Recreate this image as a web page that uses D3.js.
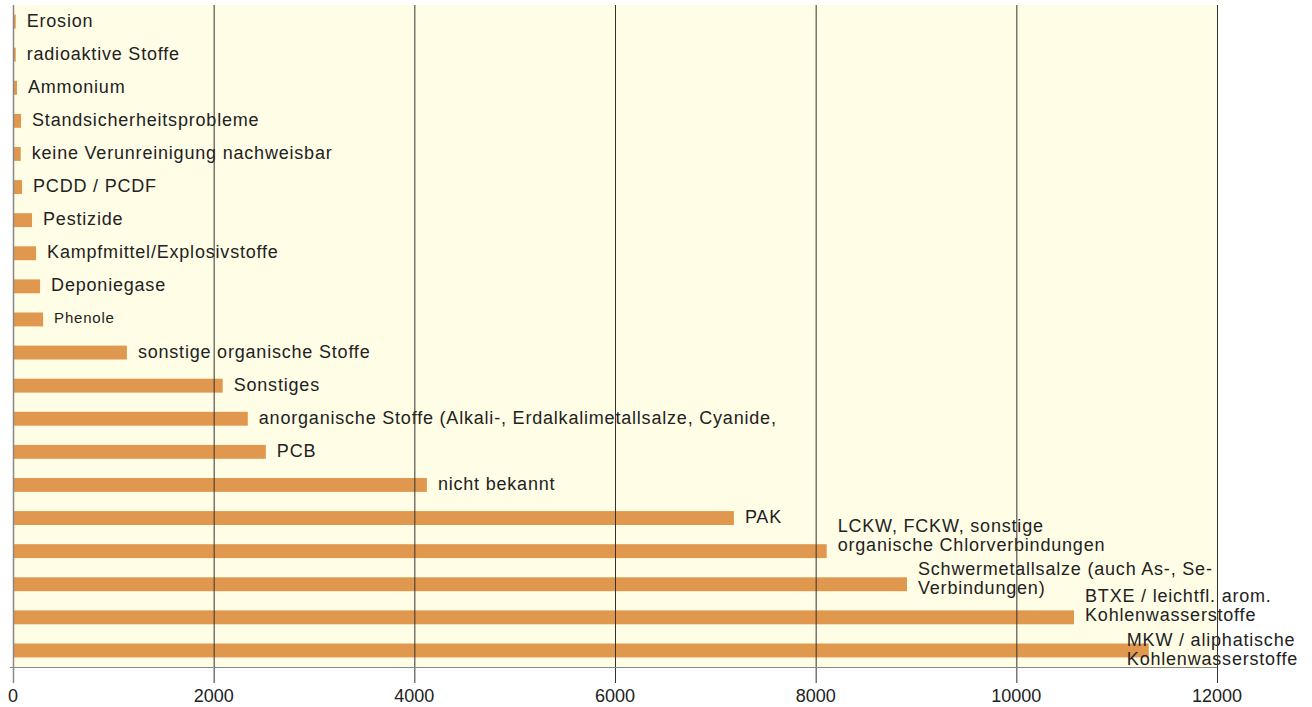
<!DOCTYPE html>
<html>
<head>
<meta charset="utf-8">
<script src="https://cdn.jsdelivr.net/npm/d3@7"></script>
<style>
  body { margin: 0; background: #fff; }
  text { font-family: "Liberation Sans", Arial, sans-serif; fill: #222; }
</style>
</head>
<body>
<div id="chart"></div>
<script>
// categories, top to bottom (lines split with "\n")
const categories = [
  "Erosion",
  "radioaktive Stoffe",
  "Ammonium",
  "Standsicherheitsprobleme",
  "keine Verunreinigung nachweisbar",
  "PCDD / PCDF",
  "Pestizide",
  "Kampfmittel/Explosivstoffe",
  "Deponiegase",
  "Phenole",
  "sonstige organische Stoffe",
  "Sonstiges",
  "anorganische Stoffe (Alkali-, Erdalkalimetallsalze, Cyanide,",
  "PCB",
  "nicht bekannt",
  "PAK",
  "LCKW, FCKW, sonstige\norganische Chlorverbindungen",
  "Schwermetallsalze (auch As-, Se-\nVerbindungen)",
  "BTXE / leichtfl. arom.\nKohlenwasserstoffe",
  "MKW / aliphatische\nKohlenwasserstoffe"
];

// number of cases per category
const values = [27, 27, 40, 80, 77, 90, 190, 230, 270, 300,
  1135, 2090, 2340, 2520, 4125, 7185, 8110, 8910, 10575, 11320];

const xTicks = [0, 2000, 4000, 6000, 8000, 10000, 12000];

const width = 1312;
const height = 707;
const plotLeft = 13, plotRight = 1217, plotTop = 5, plotBottom = 667;

const svg = d3.select("#chart")
  .append("svg")
  .attr("width", width)
  .attr("height", height);

const x = d3.scaleLinear()
  .domain([0, 12000])
  .range([plotLeft, plotRight]);

const y = d3.scaleBand()
  .domain(categories)
  .range([plotTop, plotBottom])
  .paddingInner(0.58)
  .paddingOuter(0.29);

// plot background
svg.append("rect")
  .attr("x", plotLeft)
  .attr("y", plotTop)
  .attr("width", plotRight - plotLeft)
  .attr("height", plotBottom - plotTop)
  .attr("fill", "#fffde6");

// bars
svg.selectAll("rect.bar")
  .data(categories)
  .join("rect")
  .attr("class", "bar")
  .attr("x", x(0))
  .attr("y", d => y(d))
  .attr("width", (d, i) => x(values[i]) - x(0))
  .attr("height", y.bandwidth())
  .attr("fill", "#e0974e");

// labels: first pass computes positions, second nudges stacked labels apart
const lineGap = 19;
const minGap = 24;
const labels = categories.map((d, i) => {
  const lines = d.split("\n");
  const cy = y(d) + y.bandwidth() / 2;
  const t = svg.append("text")
    .style("font-size", d === "Phenole" ? "15px" : "18px")
    .style("letter-spacing", "0.8px")
    .attr("dominant-baseline", "middle");
  const widths = lines.map((line, j) =>
    t.append("tspan").attr("x", 0).attr("dy", j === 0 ? 0 : lineGap).text(line)
      .node().getComputedTextLength());
  const w = d3.max(widths);
  let tx = x(values[i]) + 11;
  let ty = lines.length > 1 ? cy - 20 : cy;
  if (tx + w > width - 14) {
    // not enough room: pull back and drop a bit
    tx = width - 14 - w;
    ty = cy - 9;
  }
  return { t, tx, ty, n: lines.length, first: widths[0], last: widths[widths.length - 1] };
});

for (let i = 1; i < labels.length; i++) {
  const a = labels[i - 1], b = labels[i];
  const aBottom = a.ty + (a.n - 1) * lineGap;
  const gap = b.ty - aBottom;
  const overlapX = b.tx < a.tx + a.last && a.tx < b.tx + b.first;
  if (a.n > 1 && b.n > 1 && overlapX && gap < minGap) {
    const shift = minGap - gap;
    a.ty -= shift * 0.4;
    b.ty += shift * 0.6;
  }
}
labels.forEach(l => l.t.attr("transform", `translate(${l.tx},${l.ty})`));

// grid lines (drawn on top, extend below as ticks)
svg.selectAll("line.grid")
  .data(xTicks.filter(t => t > 0))
  .join("line")
  .attr("class", "grid")
  .attr("x1", d => x(d) + 0.5)
  .attr("x2", d => x(d) + 0.5)
  .attr("y1", plotTop)
  .attr("y2", 683)
  .attr("stroke", "#333")
  .attr("stroke-width", 1);

// y axis line
svg.append("line")
  .attr("x1", x(0) + 0.5)
  .attr("x2", x(0) + 0.5)
  .attr("y1", plotTop)
  .attr("y2", 683)
  .attr("stroke", "#888")
  .attr("stroke-width", 1.5);

// x axis line
svg.append("line")
  .attr("x1", plotLeft - 3)
  .attr("x2", plotRight)
  .attr("y1", plotBottom + 0.5)
  .attr("y2", plotBottom + 0.5)
  .attr("stroke", "#888")
  .attr("stroke-width", 1);

// tick labels
svg.selectAll("text.tick")
  .data(xTicks)
  .join("text")
  .attr("class", "tick")
  .attr("x", d => x(d))
  .attr("y", 697)
  .attr("text-anchor", "middle")
  .attr("dominant-baseline", "middle")
  .style("font-size", "18px")
  .text(d => d);
</script>
</body>
</html>
